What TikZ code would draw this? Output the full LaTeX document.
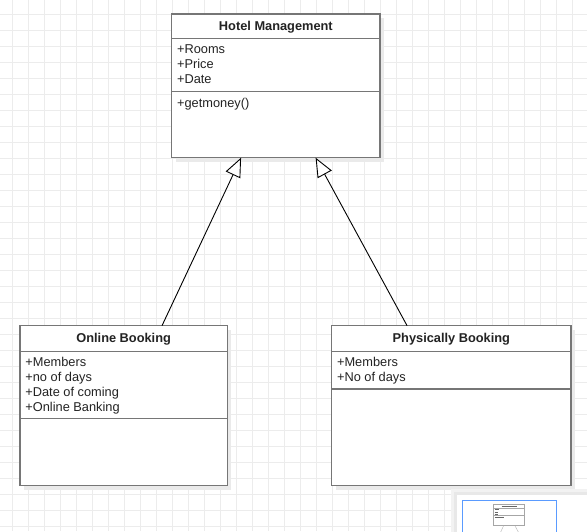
\documentclass[tikz,border=0pt]{standalone}
\usepackage{fontspec}
\setmainfont{Liberation Sans}
\usetikzlibrary{arrows.meta,calc}
\definecolor{gridc}{RGB}{236,236,236}
\definecolor{boxc}{RGB}{118,118,118}
\definecolor{shadowc}{RGB}{234,234,234}
\definecolor{textc}{RGB}{35,35,35}
\definecolor{mapblue}{RGB}{90,155,255}
\begin{document}
\begin{tikzpicture}[x=1pt,y=-1pt,
  font=\fontsize{12.8}{15}\selectfont,
  classbox/.style={draw=boxc, line width=1.5pt, fill=white, rectangle, inner sep=0pt, outer sep=0pt, anchor=north west},
  shadowbox/.style={fill=shadowc, draw=none},
  sepline/.style={draw=boxc, line width=1.5pt},
  attr/.style={anchor=base west, inner sep=0pt, text=textc},
  classtitle/.style={anchor=base, inner sep=0pt, text=textc, font=\fontsize{12.8}{15}\selectfont\bfseries},
  gen/.style={draw=black, line width=0.9pt, -{Triangle[length=19pt,width=16pt,fill=white]}}]
\useasboundingbox (0,0) rectangle (587,531);
\fill[white] (0,0) rectangle (587,531);
% grid
\foreach \gx in {0,...,36} {\draw[gridc, line width=1pt] ({12.3+16*\gx},0) -- ({12.3+16*\gx},531);}
\foreach \gy in {0,...,32} {\draw[gridc, line width=1pt] (0,{14.3+16*\gy}) -- (587,{14.3+16*\gy});}

% shadows
\fill[shadowbox] (175.7,18) rectangle (384,161.7);
\fill[shadowbox] (24,329.7) rectangle (231.3,489.7);
\fill[shadowbox] (335.7,329.7) rectangle (575,489.7);

% Hotel Management
\node[classbox, minimum width=208.3pt, minimum height=143.7pt] (hm) at (171.7,14) {};
\draw[sepline] (171.7,38.7) -- (380,38.7);
\draw[sepline] (171.7,91.7) -- (380,91.7);
\node[classtitle] (hmt) at (275.85,30.6) {Hotel Management};
\node[attr] (hma1) at (176.9,53.9) {+Rooms};
\node[attr] (hma2) at (176.9,68.7) {+Price};
\node[attr] (hma3) at (176.9,83.7) {+Date};
\node[attr] (hmm1) at (176.9,107.7) {+getmoney()};

% Online Booking
\node[classbox, minimum width=207.3pt, minimum height=160pt] (ob) at (20,325.7) {};
\draw[sepline] (20,351.3) -- (227.3,351.3);
\draw[sepline] (20,418.7) -- (227.3,418.7);
\node[classtitle] (obt) at (123.65,342.7) {Online Booking};
\node[attr] (oba1) at (25.2,366.3) {+Members};
\node[attr] (oba2) at (25.2,381.3) {+no of days};
\node[attr] (oba3) at (25.2,396.3) {+Date of coming};
\node[attr] (oba4) at (25.2,411.3) {+Online Banking};

% Physically Booking
\node[classbox, minimum width=239.3pt, minimum height=160pt] (pb) at (331.7,325.7) {};
\draw[sepline] (331.7,351.3) -- (571,351.3);
\draw[sepline] (331.7,389) -- (571,389);
\node[classtitle] (pbt) at (451.35,342.7) {Physically Booking};
\node[attr] (pba1) at (336.9,366.3) {+Members};
\node[attr] (pba2) at (336.9,381.3) {+No of days};

% connectors
\coordinate (hmL) at ($(hm.south west)!0.333!(hm.south east)$);
\coordinate (hmR) at ($(hm.south west)!0.691!(hm.south east)$);
\coordinate (obT) at ($(ob.north west)!0.685!(ob.north east)$);
\coordinate (pbT) at ($(pb.north west)!0.315!(pb.north east)$);
\draw[gen] (obT) -- (hmL);
\draw[gen] (pbT) -- (hmR);

% minimap
\begin{scope}
\clip (440,480) rectangle (587,531);
\fill[black!5] (451,489) rectangle (590,535);
\fill[black!9] (454,492) rectangle (590,535);
\fill[white] (456.7,495) rectangle (590,535);
\draw[mapblue, line width=1pt] (462.3,500.3) rectangle (556,540);
\begin{scope}[shift={(493.3,504)}, x=0.15pt, y=-0.15pt]
\fill[black!12] (4,4) rectangle (212,148);
\draw[black!35, fill=white, line width=0.6pt] (0,0) rectangle (208.3,143.7);
\draw[black!35, line width=0.4pt] (0,24.7) -- (208.3,24.7);
\draw[black!35, line width=0.4pt] (0,77.7) -- (208.3,77.7);
\draw[black!60, line width=0.5pt] (55,13) -- (155,13);
\draw[black!60, line width=0.5pt] (8,37) -- (40,37);
\draw[black!60, line width=0.5pt] (8,52) -- (34,52);
\draw[black!60, line width=0.5pt] (8,67) -- (32,67);
\draw[black!60, line width=0.5pt] (8,91) -- (70,91);
\draw[black!30, line width=0.4pt] (69,144) -- (-10,314);
\draw[black!30, line width=0.4pt] (144,144) -- (235,314);
\end{scope}
\end{scope}
\end{tikzpicture}
\end{document}
